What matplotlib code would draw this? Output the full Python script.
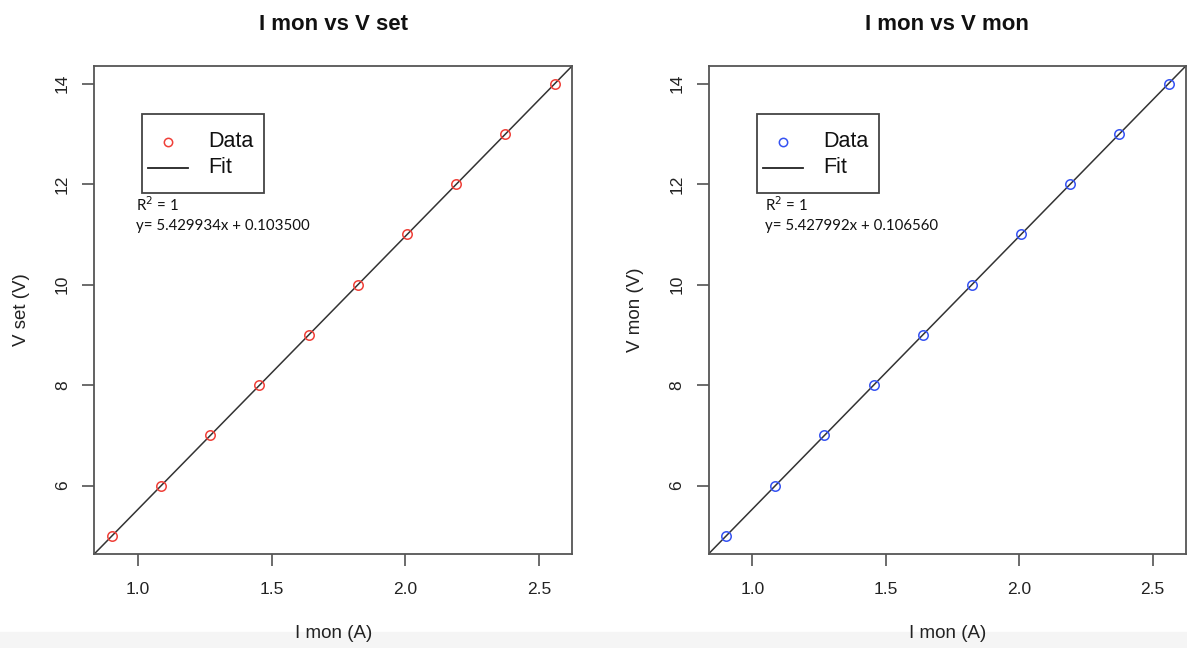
import numpy as np
import matplotlib
matplotlib.use("Agg")
import matplotlib.pyplot as plt
from matplotlib.patches import Rectangle
from matplotlib.lines import Line2D

# Data
v_values = [5, 6, 7, 8, 9, 10, 11, 12, 13, 14]
i_mon_set = [0.902, 1.086, 1.270, 1.454, 1.638, 1.823, 2.007, 2.191, 2.375, 2.559]
i_mon_mon = [0.902, 1.086, 1.270, 1.454, 1.638, 1.823, 2.007, 2.191, 2.375, 2.560]
fit_set = (5.429934, 0.103500)
fit_mon = (5.427992, 0.106560)
titles = ["I mon vs V set", "I mon vs V mon"]
ylabels = ["V set (V)", "V mon (V)"]
xlabel = "I mon (A)"
colors = ["#ef3f38", "#3552f2"]
xticks = [1.0, 1.5, 2.0, 2.5]
yticks = [6, 8, 10, 12, 14]

plt.rcParams['font.family'] = ['Liberation Sans', 'DejaVu Sans']

fig = plt.figure(figsize=(11.87, 6.48), dpi=100)
W, H = 1187, 648

# light grey strip at the bottom of the screenshot
fig.patches.append(Rectangle((0, 0), 1, 16 / H, transform=fig.transFigure,
                             color='#f5f5f5', zorder=-5))

boxes = [(94.3, 65.7, 572.3, 554), (708.6, 65.7, 1186.2, 554)]
leg_left = [141.7, 756.7]
ann_left = [135.7, 765.0]
xs = [i_mon_set, i_mon_mon]
fits = [fit_set, fit_mon]

for k in range(2):
    l, t, r, b = boxes[k]
    ax = fig.add_axes([l / W, 1 - b / H, (r - l) / W, (b - t) / H])
    ax.set_zorder(2)
    x = np.array(xs[k]); y = np.array(v_values)
    xr = x.max() - x.min(); yr = y.max() - y.min()
    ax.set_xlim(x.min() - 0.04 * xr, x.max() + 0.04 * xr)
    ax.set_ylim(y.min() - 0.04 * yr, y.max() + 0.04 * yr)
    m, c = fits[k]
    xl = np.array(ax.get_xlim())
    ax.plot(xl, m * xl + c, color='#333333', lw=1.1, zorder=2)
    ax.plot(x, y, 'o', mfc='none', mec=colors[k], mew=1.1, ms=6.8, zorder=3)
    ax.set_xlim(*xl)
    for s in ax.spines.values():
        s.set_color('#555555'); s.set_linewidth(1.3)
    ax.set_xticks(xticks)
    ax.set_xticklabels([f"{v:.1f}" for v in xticks])
    ax.set_yticks(yticks)
    ax.set_yticklabels([str(v) for v in yticks], rotation=90, va='center')
    ax.tick_params(axis='both', direction='out', length=8.5, width=1.1, color='#444444',
                   labelsize=12.5, labelcolor='#222222')
    ax.tick_params(axis='x', pad=11.5)
    ax.tick_params(axis='y', pad=9)
    ax.set_title(titles[k], fontsize=16, fontweight='bold', pad=26, color='#111111')
    ax.set_xlabel(xlabel, fontsize=13.5, labelpad=20, color='#222222')
    ax.set_ylabel(ylabels[k], fontsize=13.5, labelpad=18, color='#222222')

    # legend (drawn manually in axes fraction)
    aw = r - l; ah = b - t
    lx0 = (leg_left[k] - l) / aw
    lx1 = lx0 + 122.6 / aw
    ly1 = 1 - (114.3 - t) / ah
    ly0 = 1 - (193.3 - t) / ah
    ax.add_patch(Rectangle((lx0, ly0), lx1 - lx0, ly1 - ly0, transform=ax.transAxes,
                           fill=False, ec='#444444', lw=1.3, zorder=5))
    yd = 1 - (141.7 - t) / ah
    yf = 1 - (168 - t) / ah
    ax.add_line(Line2D([lx0 + 26 / aw], [yd], transform=ax.transAxes, marker='o',
                       mfc='none', mec=colors[k], mew=1.1, ms=6.0, ls='none'))
    ax.add_line(Line2D([lx0 + 6 / aw, lx0 + 46.6 / aw], [yf, yf], transform=ax.transAxes,
                       color='#222222', lw=1.3))
    ax.text(lx0 + 66.6 / aw, yd, "Data", transform=ax.transAxes, fontsize=15.5,
            va='center', ha='left', color='#111111')
    ax.text(lx0 + 66.6 / aw, yf, "Fit", transform=ax.transAxes, fontsize=15.5,
            va='center', ha='left', color='#111111')
    tx = (ann_left[k] - l) / aw
    ax.text(tx, 1 - (205 - t) / ah, "R$^2$ = 1", transform=ax.transAxes, fontsize=10.8,
            va='center', ha='left', family=['Lato', 'DejaVu Sans'], color='#111111')
    ax.text(tx, 1 - (226 - t) / ah, f"y= {m:.6f}x + {c:.6f}", transform=ax.transAxes,
            fontsize=10.8, va='center', ha='left', family=['Lato', 'DejaVu Sans'], color='#111111')

fig.savefig("out.png", dpi=100)
